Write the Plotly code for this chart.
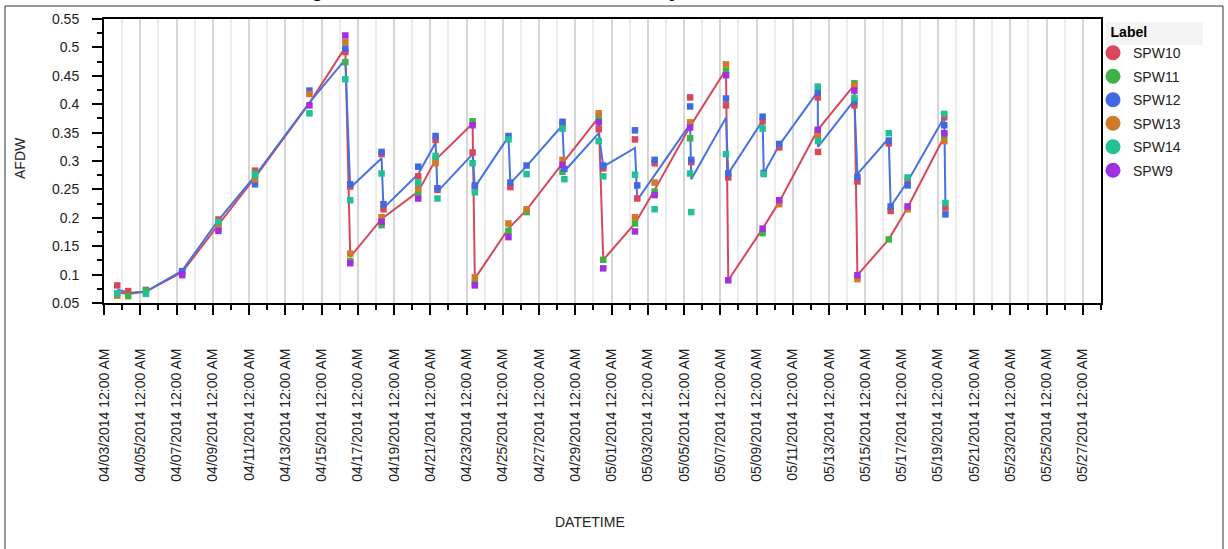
import plotly.graph_objects as go

# ---------------- data ----------------
SPW10_DATES = ["2014-04-03 17:30", "2014-04-04 08:00", "2014-04-05 07:30", "2014-04-07 07:30",
               "2014-04-09 07:30", "2014-04-11 08:00", "2014-04-16 07:30", "2014-04-16 14:00",
               "2014-04-18 07:30", "2014-04-18 10:00", "2014-04-20 08:00", "2014-04-21 07:00",
               "2014-04-21 09:30", "2014-04-23 08:00", "2014-04-23 11:00", "2014-04-25 10:00",
               "2014-04-28 07:00", "2014-04-30 07:00", "2014-04-30 13:00", "2014-05-02 07:00",
               "2014-05-02 10:00", "2014-05-03 09:00", "2014-05-05 08:00", "2014-05-05 09:30",
               "2014-05-07 07:30", "2014-05-07 10:30", "2014-05-09 08:00", "2014-05-10 06:00",
               "2014-05-12 09:00", "2014-05-12 09:20", "2014-05-14 09:30", "2014-05-14 13:30",
               "2014-05-16 07:00", "2014-05-16 09:30", "2014-05-17 08:00", "2014-05-19 08:30",
               "2014-05-19 10:00"]
SPW10_AFDW = [0.081, 0.071, 0.073, 0.104, 0.197, 0.283, 0.492, 0.255, 0.312, 0.215, 0.273, 0.337,
              0.249, 0.315, 0.254, 0.254, 0.365, 0.356, 0.287, 0.338, 0.234, 0.296, 0.412, 0.298,
              0.398, 0.271, 0.370, 0.324, 0.412, 0.316, 0.398, 0.264, 0.331, 0.212, 0.265, 0.377,
              0.218]

SPW11_DATES = ["2014-04-04 08:00", "2014-04-05 07:30", "2014-04-09 07:30", "2014-04-11 08:00",
               "2014-04-16 07:30", "2014-04-16 14:00", "2014-04-18 07:30", "2014-04-20 08:00",
               "2014-04-21 07:00", "2014-04-23 08:00", "2014-04-23 11:00", "2014-04-25 07:30",
               "2014-04-26 07:30", "2014-04-28 07:00", "2014-04-30 07:00", "2014-04-30 13:00",
               "2014-05-02 07:00", "2014-05-03 09:00", "2014-05-05 08:00", "2014-05-07 07:30",
               "2014-05-09 08:00", "2014-05-12 09:00", "2014-05-14 09:30", "2014-05-16 07:00",
               "2014-05-19 08:30"]
SPW11_AFDW = [0.062, 0.072, 0.191, 0.278, 0.474, 0.124, 0.187, 0.245, 0.303, 0.370, 0.086, 0.177,
              0.210, 0.281, 0.377, 0.126, 0.190, 0.246, 0.340, 0.459, 0.173, 0.351, 0.437, 0.162,
              0.345]

SPW12_DATES = ["2014-04-07 07:30", "2014-04-11 08:00", "2014-04-14 08:00", "2014-04-16 07:30",
               "2014-04-16 14:00", "2014-04-18 07:30", "2014-04-18 10:00", "2014-04-20 08:00",
               "2014-04-21 07:00", "2014-04-21 09:30", "2014-04-23 11:00", "2014-04-25 07:30",
               "2014-04-25 10:00", "2014-04-26 07:30", "2014-04-28 07:00", "2014-04-28 09:30",
               "2014-04-30 13:00", "2014-05-02 07:00", "2014-05-02 10:00", "2014-05-03 09:00",
               "2014-05-05 08:00", "2014-05-05 09:30", "2014-05-07 07:30", "2014-05-07 10:30",
               "2014-05-09 08:00", "2014-05-09 09:30", "2014-05-10 06:00", "2014-05-12 09:00",
               "2014-05-14 09:30", "2014-05-14 13:30", "2014-05-16 07:00", "2014-05-16 09:30",
               "2014-05-17 08:00", "2014-05-19 08:30", "2014-05-19 10:00"]
SPW12_AFDW = [0.106, 0.259, 0.424, 0.498, 0.259, 0.316, 0.224, 0.290, 0.344, 0.252, 0.257, 0.344,
              0.262, 0.292, 0.369, 0.286, 0.292, 0.354, 0.257, 0.302, 0.396, 0.302, 0.410, 0.278,
              0.378, 0.279, 0.330, 0.421, 0.405, 0.272, 0.336, 0.220, 0.257, 0.363, 0.206]

SPW13_DATES = ["2014-04-03 17:30", "2014-04-09 07:30", "2014-04-11 08:00", "2014-04-14 08:00",
               "2014-04-16 07:30", "2014-04-16 14:00", "2014-04-18 07:30", "2014-04-20 08:00",
               "2014-04-21 07:00", "2014-04-23 11:00", "2014-04-25 07:30", "2014-04-26 07:30",
               "2014-04-28 07:00", "2014-04-30 07:00", "2014-05-02 07:00", "2014-05-03 09:00",
               "2014-05-05 08:00", "2014-05-07 07:30", "2014-05-10 06:00", "2014-05-12 09:00",
               "2014-05-14 09:30", "2014-05-14 13:30", "2014-05-17 08:00", "2014-05-19 08:30"]
SPW13_AFDW = [0.063, 0.186, 0.268, 0.418, 0.509, 0.137, 0.201, 0.252, 0.296, 0.095, 0.190, 0.215,
              0.302, 0.384, 0.201, 0.262, 0.368, 0.470, 0.224, 0.346, 0.433, 0.092, 0.215, 0.335]

SPW14_DATES = ["2014-04-03 17:30", "2014-04-05 07:30", "2014-04-09 07:30", "2014-04-11 08:00",
               "2014-04-14 08:00", "2014-04-16 07:30", "2014-04-16 14:00", "2014-04-18 07:30",
               "2014-04-20 08:00", "2014-04-21 07:00", "2014-04-21 09:30", "2014-04-23 08:00",
               "2014-04-23 11:00", "2014-04-25 07:30", "2014-04-26 07:30", "2014-04-28 07:00",
               "2014-04-28 09:30", "2014-04-30 07:00", "2014-04-30 13:00", "2014-05-02 07:00",
               "2014-05-03 09:00", "2014-05-05 08:00", "2014-05-05 09:30", "2014-05-07 07:30",
               "2014-05-09 08:00", "2014-05-09 09:30", "2014-05-12 09:00", "2014-05-12 09:20",
               "2014-05-14 09:30", "2014-05-16 07:00", "2014-05-17 08:00", "2014-05-19 08:30",
               "2014-05-19 10:00"]
SPW14_AFDW = [0.067, 0.066, 0.193, 0.275, 0.384, 0.444, 0.231, 0.278, 0.262, 0.309, 0.234, 0.296,
              0.245, 0.338, 0.277, 0.357, 0.268, 0.335, 0.273, 0.276, 0.215, 0.278, 0.210, 0.312,
              0.357, 0.277, 0.431, 0.335, 0.411, 0.349, 0.271, 0.383, 0.226]

SPW9_DATES = ["2014-04-07 07:30", "2014-04-09 07:30", "2014-04-14 08:00", "2014-04-16 07:30",
              "2014-04-16 14:00", "2014-04-18 07:30", "2014-04-20 08:00", "2014-04-23 08:00",
              "2014-04-23 11:00", "2014-04-25 07:30", "2014-04-28 07:00", "2014-04-30 07:00",
              "2014-04-30 13:00", "2014-05-02 07:00", "2014-05-03 09:00", "2014-05-05 08:00",
              "2014-05-07 07:30", "2014-05-07 10:30", "2014-05-09 08:00", "2014-05-10 06:00",
              "2014-05-12 09:00", "2014-05-14 09:30", "2014-05-14 13:30", "2014-05-17 08:00",
              "2014-05-19 08:30"]
SPW9_AFDW = [0.099, 0.177, 0.398, 0.521, 0.120, 0.193, 0.234, 0.363, 0.081, 0.166, 0.293, 0.368,
             0.111, 0.176, 0.240, 0.359, 0.451, 0.090, 0.181, 0.231, 0.355, 0.424, 0.099, 0.220,
             0.349]

# trend lines (red and blue)
RED_LINE_DATES = ["2014-04-03 17:30", "2014-04-04 08:00", "2014-04-05 07:30", "2014-04-07 07:30",
                  "2014-04-09 07:30", "2014-04-11 08:00", "2014-04-14 08:00", "2014-04-16 07:30",
                  "2014-04-16 14:00", "2014-04-18 07:30", "2014-04-20 08:00", "2014-04-21 07:00",
                  "2014-04-23 08:00", "2014-04-23 11:00", "2014-04-25 07:30", "2014-04-26 07:30",
                  "2014-04-28 07:00", "2014-04-30 07:00", "2014-04-30 13:00", "2014-05-02 07:00",
                  "2014-05-03 09:00", "2014-05-05 08:00", "2014-05-07 07:30", "2014-05-07 10:30",
                  "2014-05-09 08:00", "2014-05-10 06:00", "2014-05-12 09:00", "2014-05-14 09:30",
                  "2014-05-14 13:30", "2014-05-16 07:00", "2014-05-17 08:00", "2014-05-19 08:30"]
RED_LINE_AFDW = [0.069, 0.066, 0.070, 0.104, 0.188, 0.271, 0.402, 0.500, 0.131, 0.198, 0.246,
                 0.302, 0.366, 0.093, 0.181, 0.214, 0.296, 0.377, 0.126, 0.190, 0.249, 0.361,
                 0.461, 0.090, 0.181, 0.228, 0.355, 0.434, 0.099, 0.162, 0.218, 0.343]

BLUE_LINE_DATES = ["2014-04-03 17:30", "2014-04-04 08:00", "2014-04-05 07:30", "2014-04-07 07:30",
                   "2014-04-09 07:30", "2014-04-11 08:00", "2014-04-14 08:00", "2014-04-16 07:30",
                   "2014-04-16 14:00", "2014-04-18 07:30", "2014-04-18 10:00", "2014-04-20 08:00",
                   "2014-04-21 07:00", "2014-04-21 09:30", "2014-04-23 08:00", "2014-04-23 11:00",
                   "2014-04-25 07:30", "2014-04-25 10:00", "2014-04-26 07:30", "2014-04-28 07:00",
                   "2014-04-28 09:30", "2014-04-30 07:00", "2014-04-30 13:00", "2014-05-02 07:00",
                   "2014-05-02 10:00", "2014-05-05 08:00", "2014-05-05 09:30", "2014-05-07 07:30",
                   "2014-05-07 10:30", "2014-05-09 08:00", "2014-05-09 09:30", "2014-05-10 06:00",
                   "2014-05-12 09:00", "2014-05-12 09:20", "2014-05-14 09:30", "2014-05-14 13:30",
                   "2014-05-16 07:00", "2014-05-16 09:30", "2014-05-17 08:00", "2014-05-19 08:30",
                   "2014-05-19 10:00"]
BLUE_LINE_AFDW = [0.074, 0.068, 0.070, 0.107, 0.196, 0.274, 0.403, 0.479, 0.253, 0.305, 0.217,
                  0.277, 0.332, 0.246, 0.312, 0.254, 0.343, 0.261, 0.291, 0.363, 0.282, 0.349,
                  0.290, 0.323, 0.231, 0.365, 0.268, 0.376, 0.278, 0.371, 0.278, 0.328, 0.422,
                  0.325, 0.407, 0.277, 0.340, 0.220, 0.264, 0.377, 0.226]

LABELS = ["SPW10", "SPW11", "SPW12", "SPW13", "SPW14", "SPW9"]
COLORS = ["#d8485b", "#3db24a", "#4169e1", "#d2782a", "#21c095", "#a22fe0"]
SERIES_DATES = [SPW10_DATES, SPW11_DATES, SPW12_DATES, SPW13_DATES, SPW14_DATES, SPW9_DATES]
SERIES_AFDW = [SPW10_AFDW, SPW11_AFDW, SPW12_AFDW, SPW13_AFDW, SPW14_AFDW, SPW9_AFDW]

FONT = "Liberation Sans, Arial, Helvetica, sans-serif"

# plot area in pixels (for placing decorations)
L, R, T, B = 104, 1101, 19, 303
def px(x):
    return (x - L) / (R - L)
def py(y):
    return (B - y) / (B - T)

fig = go.Figure()

fig.add_trace(go.Scatter(x=RED_LINE_DATES, y=RED_LINE_AFDW, mode="lines",
                         line=dict(color="#d8485b", width=2), showlegend=False, hoverinfo="skip"))
fig.add_trace(go.Scatter(x=BLUE_LINE_DATES, y=BLUE_LINE_AFDW, mode="lines",
                         line=dict(color="#4673e0", width=2), showlegend=False, hoverinfo="skip"))

for name, color, dates, vals in zip(LABELS, COLORS, SERIES_DATES, SERIES_AFDW):
    fig.add_trace(go.Scatter(x=dates, y=vals, mode="markers", name=name, legendgroup=name,
                             marker=dict(symbol="square", size=6.5, color=color),
                             showlegend=False))
    fig.add_trace(go.Scatter(x=[None], y=[None], mode="markers", name=name, legendgroup=name,
                             marker=dict(symbol="circle", size=15, color=color),
                             showlegend=True))

shapes = [
    # outer frame
    dict(type="rect", xref="paper", yref="paper", x0=px(5), x1=px(1223), y0=py(700), y1=py(6),
         line=dict(color="#333333", width=1), fillcolor="rgba(0,0,0,0)", layer="above"),
    # legend title background
    dict(type="rect", xref="paper", yref="paper", x0=px(1106), x1=px(1203), y0=py(45), y1=py(22),
         line=dict(width=0), fillcolor="#f4f4f4", layer="below"),
]

annotations = [
    dict(text="<b>Weighted AFDW Trend Lines Over Time by Label</b>", xref="paper", yref="paper",
         x=px(274), y=py(-9.6), xanchor="left", yanchor="middle", showarrow=False,
         font=dict(size=20, family=FONT, color="#000")),
    dict(text="AFDW", xref="paper", yref="paper", x=px(20), y=py(158), textangle=-90,
         xanchor="center", yanchor="middle", showarrow=False, font=dict(size=14, family=FONT, color="#222")),
    dict(text="DATETIME", xref="paper", yref="paper", x=px(590), y=py(522),
         xanchor="center", yanchor="middle", showarrow=False, font=dict(size=14, family=FONT, color="#222")),
]

fig.update_layout(
    width=1228, height=549,
    margin=dict(l=L, r=1228 - R, t=T, b=549 - B, pad=0),
    paper_bgcolor="white", plot_bgcolor="white",
    font=dict(family=FONT, size=14, color="#222"),
    shapes=shapes, annotations=annotations,
    legend=dict(x=px(1093), xanchor="left", y=1.0, yanchor="top", bgcolor="rgba(0,0,0,0)",
                title=dict(text="&nbsp;&nbsp;&nbsp;&nbsp;<b>Label</b>", font=dict(size=14, family=FONT, color="#000")),
                traceorder="grouped", tracegroupgap=2.3, font=dict(size=14, family=FONT, color="#222"),
                itemsizing="trace"),
    xaxis=dict(type="date", range=["2014-04-03", "2014-05-28"], tick0="2014-04-03", dtick=172800000,
               tickformat="%m/%d/%Y %I:%M %p", tickangle=-90, ticks="outside", ticklen=10, tickwidth=2,
               tickcolor="black", showline=True, linecolor="black", linewidth=2, mirror=True,
               showgrid=True, gridcolor="#d6d6d6", gridwidth=2, zeroline=False, ticklabelstandoff=28,
               tickfont=dict(size=14, family=FONT, color="#222"),
               minor=dict(dtick=86400000, tick0="2014-04-03", ticks="outside", ticklen=5, tickwidth=1.5,
                          tickcolor="black", showgrid=True, gridcolor="#ececec", gridwidth=1.5)),
    yaxis=dict(range=[0.05, 0.55], tick0=0.05, dtick=0.05, ticks="outside", ticklen=10, tickwidth=2,
               tickcolor="black", showline=True, linecolor="black", linewidth=2, mirror=True,
               showgrid=False, zeroline=False, ticklabelstandoff=10,
               tickfont=dict(size=14, family=FONT, color="#222"),
               minor=dict(dtick=0.025, ticks="outside", ticklen=5, tickwidth=1.5, tickcolor="black",
                          showgrid=False)),
)

fig.write_html("out.html", config={"displayModeBar": False},
               post_script="document.body.style.margin='0px';")
